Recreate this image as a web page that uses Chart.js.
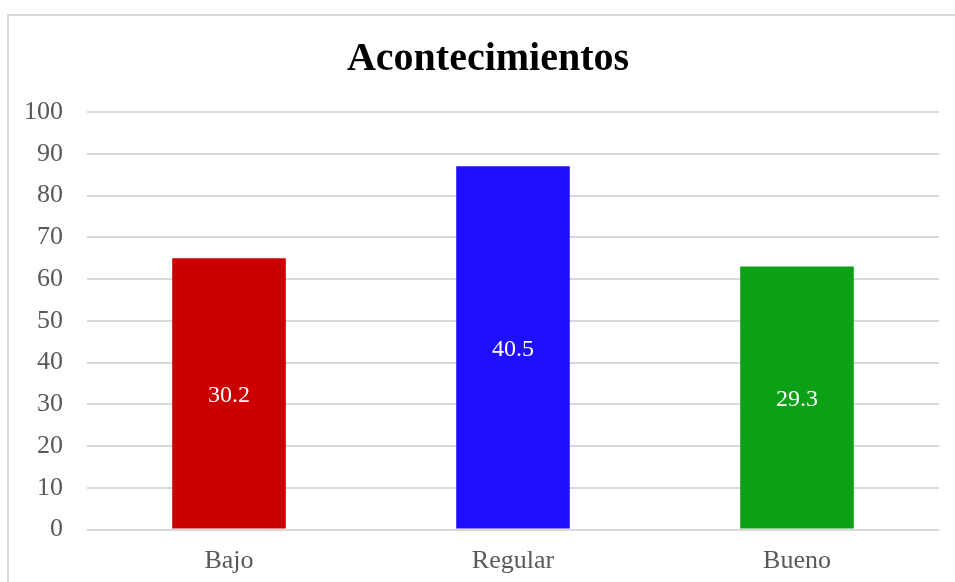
<!DOCTYPE html>
<html>
<head>
<meta charset="utf-8">
<script src="https://cdn.jsdelivr.net/npm/chart.js@4"></script>
<style>
  html, body { margin: 0; padding: 0; background: #fff; overflow: hidden; }
  #frame {
    position: absolute; left: 7px; top: 14px;
    width: 990px; height: 620px;
    border: 2px solid #d9d9d9; box-sizing: border-box;
  }
  #chart { position: absolute; left: 0; top: 0; }
</style>
</head>
<body>
<div id="frame"><canvas id="chart" width="958" height="566"></canvas></div>
<script>
// Données du graphique
const categories = ['Bajo', 'Regular', 'Bueno'];
const barValues = [65, 87, 63];
const labelValues = ['30.2', '40.5', '29.3'];
const barColors = ['#cc0000', '#1f0fff', '#0ba015'];
const chartTitle = 'Acontecimientos';

// Étiquettes blanches au centre des barres
const barLabels = {
  id: 'barLabels',
  afterLayout(chart) {
    // Centre le titre sur toute la largeur du canvas
    if (chart.titleBlock) {
      chart.titleBlock.left = 0;
      chart.titleBlock.right = chart.width;
    }
  },
  afterDatasetsDraw(chart) {
    const ctx = chart.ctx;
    const meta = chart.getDatasetMeta(0);
    ctx.save();
    ctx.fillStyle = '#ffffff';
    ctx.font = '24px "Liberation Serif"';
    ctx.textAlign = 'center';
    ctx.textBaseline = 'middle';
    meta.data.forEach((bar, i) => {
      const y = (bar.y + bar.base) / 2 + 2;
      ctx.fillText(labelValues[i], bar.x, y);
    });
    ctx.restore();
  }
};

new Chart(document.getElementById('chart'), {
  type: 'bar',
  data: {
    labels: categories,
    datasets: [{
      data: barValues,
      backgroundColor: barColors,
      barPercentage: 0.4,
      categoryPercentage: 1
    }]
  },
  options: {
    responsive: false,
    devicePixelRatio: 1,
    animation: false,
    layout: { padding: { left: 0, right: 28, top: 0, bottom: 0 } },
    plugins: {
      legend: { display: false },
      tooltip: { enabled: false },
      title: {
        display: true,
        text: chartTitle,
        color: '#000000',
        font: { family: '"Liberation Serif"', size: 40, weight: 'bold' },
        padding: { top: 20, bottom: 28 }
      }
    },
    scales: {
      x: {
        afterFit(scale) { scale.height = 52.5; },
        grid: { display: false, drawTicks: false },
        border: { display: false },
        ticks: {
          color: '#595959',
          font: { family: '"Liberation Serif"', size: 26 },
          padding: 16
        }
      },
      y: {
        min: 0,
        max: 100,
        afterFit(scale) { scale.width = 78; },
        grid: { color: '#d9d9d9', lineWidth: 2, drawTicks: false },
        border: { display: false },
        ticks: {
          stepSize: 10,
          color: '#595959',
          font: { family: '"Liberation Serif"', size: 26 },
          padding: 24
        }
      }
    }
  },
  plugins: [barLabels]
});
</script>
</body>
</html>
